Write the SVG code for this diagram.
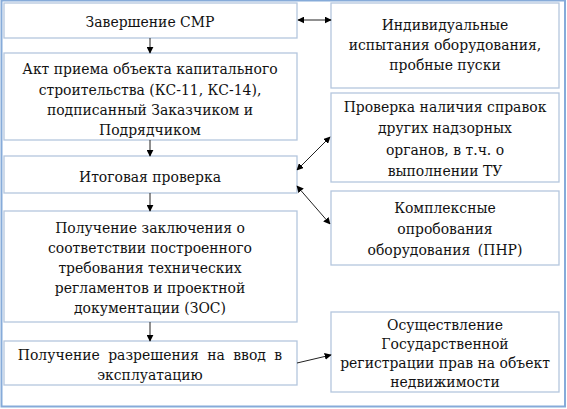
<svg xmlns="http://www.w3.org/2000/svg" width="567" height="409" viewBox="0 0 567 409">
<defs>
<marker id="ah" viewBox="0 0 10 10" refX="9" refY="5" markerWidth="7" markerHeight="7" markerUnits="userSpaceOnUse" orient="auto-start-reverse"><path d="M0,0 L10,5 L0,10 z" fill="#000"/></marker>
<style>
.box{fill:#fff;stroke:#b4c6de;stroke-width:1.3}
.t{font-family:'DejaVu Serif Condensed','DejaVu Serif',serif;font-stretch:condensed;font-size:15.5px;fill:#111;text-anchor:middle}
.c{stroke:#222;stroke-width:1;fill:none}
</style>
</defs>
<rect x="0" y="0" width="567" height="409" fill="#fff"/>
<rect x="1.5" y="0.5" width="563.5" height="406" fill="none" stroke="#86abd9" stroke-width="2"/>
<g id="n1"><rect class="box" x="4" y="3" width="293" height="35"/><text class="t" x="150" y="27">Завершение СМР</text></g>
<g id="n2"><rect class="box" x="4" y="53" width="293" height="87"/><text class="t" x="150" y="74">Акт приема объекта капитального</text><text class="t" x="150" y="95">строительства (КС-11, КС-14),</text><text class="t" x="150" y="115">подписанный Заказчиком и</text><text class="t" x="150" y="135">Подрядчиком</text></g>
<g id="n3"><rect class="box" x="4" y="156" width="293" height="37"/><text class="t" x="150" y="182">Итоговая проверка</text></g>
<g id="n4"><rect class="box" x="4" y="211" width="293" height="111"/><text class="t" x="150" y="233">Получение заключения о</text><text class="t" x="150" y="253">соответствии построенного</text><text class="t" x="150" y="273">требования технических</text><text class="t" x="150" y="293">регламентов и проектной</text><text class="t" x="150" y="313">документации (ЗОС)</text></g>
<g id="n5"><rect class="box" x="4" y="341" width="293" height="44"/><text class="t" x="150" y="360" word-spacing="4">Получение разрешения на ввод в</text><text class="t" x="150" y="380">эксплуатацию</text></g>
<g id="r1"><rect class="box" x="331" y="3" width="228" height="85"/><text class="t" x="445" y="30">Индивидуальные</text><text class="t" x="445" y="50">испытания оборудования,</text><text class="t" x="445" y="70">пробные пуски</text></g>
<g id="r2"><rect class="box" x="331" y="93" width="228" height="89"/><text class="t" x="445" y="112">Проверка наличия справок</text><text class="t" x="445" y="133">других надзорных</text><text class="t" x="445" y="155">органов, в т.ч. о</text><text class="t" x="445" y="176">выполнении ТУ</text></g>
<g id="r3"><rect class="box" x="331" y="191" width="228" height="74"/><text class="t" x="445" y="213">Комплексные</text><text class="t" x="445" y="234">опробования</text><text class="t" x="445" y="255" word-spacing="3">оборудования (ПНР)</text></g>
<g id="r4"><rect class="box" x="331" y="312" width="228" height="80"/><text class="t" x="445" y="330">Осуществление</text><text class="t" x="445" y="349">Государственной</text><text class="t" x="445" y="368">регистрации прав на объект</text><text class="t" x="445" y="387">недвижимости</text></g>
<g id="connectors">
<line class="c" x1="150" y1="38" x2="150" y2="53" marker-end="url(#ah)"/>
<line class="c" x1="150" y1="140" x2="150" y2="156" marker-end="url(#ah)"/>
<line class="c" x1="150" y1="193" x2="150" y2="211" marker-end="url(#ah)"/>
<line class="c" x1="150" y1="322" x2="150" y2="341" marker-end="url(#ah)"/>
<line class="c" x1="298" y1="20" x2="331" y2="20" marker-start="url(#ah)" marker-end="url(#ah)"/>
<line class="c" x1="297" y1="170" x2="330" y2="137" marker-start="url(#ah)" marker-end="url(#ah)"/>
<line class="c" x1="297" y1="186" x2="330" y2="224" marker-start="url(#ah)" marker-end="url(#ah)"/>
<line class="c" x1="297" y1="363" x2="331" y2="355" marker-end="url(#ah)"/>
</g>
</svg>
